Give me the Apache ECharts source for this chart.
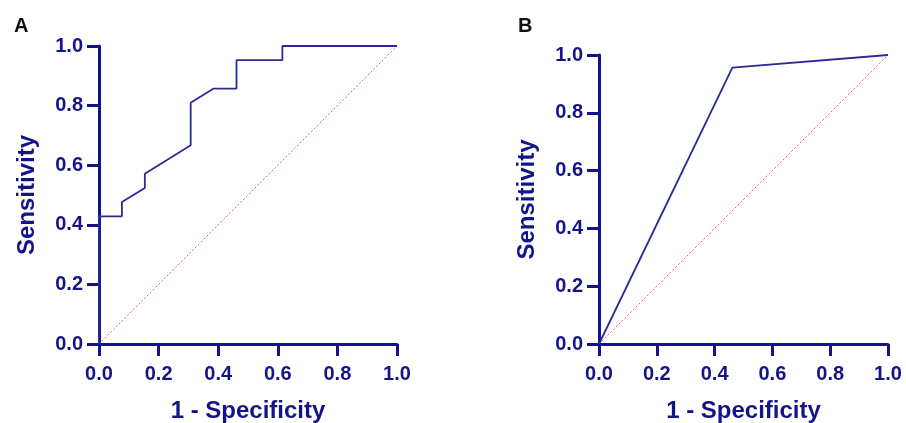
<!DOCTYPE html>
<html>
<head>
<meta charset="utf-8">
<script src="https://cdn.jsdelivr.net/npm/echarts@6/dist/echarts.min.js"></script>
<style>html,body{margin:0;padding:0;background:#fff}#c{width:906px;height:423px}</style>
</head>
<body>
<div id="c"></div>
<script>
// Panel A ROC curve (1 - specificity, sensitivity)
const rocA_fpr  = [0, 0, 0.0769, 0.0769, 0.1538, 0.1538, 0.3077, 0.3077, 0.3846, 0.4615, 0.4615, 0.6154, 0.6154, 1.0];
const rocA_sens = [0, 0.4286, 0.4286, 0.4762, 0.5238, 0.5714, 0.6667, 0.8095, 0.8571, 0.8571, 0.9524, 0.9524, 1.0, 1.0];
// Panel B ROC curve
const rocB_fpr  = [0, 0.4615, 1.0];
const rocB_sens = [0, 0.9565, 1.0];
// Reference diagonal
const diag_x = [0, 1];
const diag_y = [0, 1];
const tickValues = [0, 0.2, 0.4, 0.6, 0.8, 1.0];
const xTitle = '1 - Specificity';
const yTitle = 'Sensitivity';
const panelLabels = ['A', 'B'];

const navy = '#14148a';
const font = '"Liberation Sans", Arial, sans-serif';
const zip = (a, b) => a.map((v, i) => [v, b[i]]);

function xAxisCfg(gi) {
  return {
    type: 'value', gridIndex: gi, min: 0, max: 1, interval: 0.2,
    name: xTitle, nameLocation: 'middle', nameGap: 55,
    nameTextStyle: {color: navy, fontSize: 24, fontWeight: 'bold', fontFamily: font},
    axisLine: {show: true, onZero: false, lineStyle: {color: navy, width: 3}},
    axisTick: {show: true, inside: false, length: 12, lineStyle: {color: navy, width: 3}},
    axisLabel: {color: navy, fontSize: 20, fontWeight: 'bold', fontFamily: font, margin: 20,
      formatter: v => v.toFixed(1)},
    splitLine: {show: false}
  };
}
function yAxisCfg(gi) {
  return {
    type: 'value', gridIndex: gi, min: 0, max: 1, interval: 0.2,
    name: yTitle, nameLocation: 'middle', nameGap: 60, nameRotate: 90,
    nameTextStyle: {color: navy, fontSize: 24, fontWeight: 'bold', fontFamily: font},
    axisLine: {show: true, onZero: false, lineStyle: {color: navy, width: 3}},
    axisTick: {show: true, inside: false, length: 12, lineStyle: {color: navy, width: 3}},
    axisLabel: {color: navy, fontSize: 20, fontWeight: 'bold', fontFamily: font, margin: 16,
      formatter: v => v.toFixed(1)},
    splitLine: {show: false}
  };
}

const chart = echarts.init(document.getElementById('c'), null, {renderer: 'canvas'});
chart.setOption({
  animation: false,
  backgroundColor: '#ffffff',
  title: [
    {text: panelLabels[0], left: 9, top: 11, textStyle: {color: '#111', fontSize: 20, fontWeight: 'bold', fontFamily: font}},
    {text: panelLabels[1], left: 513, top: 11, textStyle: {color: '#111', fontSize: 20, fontWeight: 'bold', fontFamily: font}}
  ],
  grid: [
    {left: 99, right: 509, top: 46, bottom: 79, containLabel: false, outerBoundsMode: 'none'},
    {left: 599, right: 18, top: 55, bottom: 79, containLabel: false, outerBoundsMode: 'none'}
  ],
  xAxis: [xAxisCfg(0), xAxisCfg(1)],
  yAxis: [yAxisCfg(0), yAxisCfg(1)],
  series: [
    {type: 'line', xAxisIndex: 0, yAxisIndex: 0, data: zip(diag_x, diag_y), symbol: 'none',
      lineStyle: {color: '#ff5a5a', width: 1, type: [2, 2]}, z: 1},
    {type: 'line', xAxisIndex: 0, yAxisIndex: 0, data: zip(rocA_fpr, rocA_sens), symbol: 'none',
      lineStyle: {color: '#2a2a9c', width: 1.8}, z: 2},
    {type: 'line', xAxisIndex: 1, yAxisIndex: 1, data: zip(diag_x, diag_y), symbol: 'none',
      lineStyle: {color: '#ff5a5a', width: 1, type: [2, 2]}, z: 1},
    {type: 'line', xAxisIndex: 1, yAxisIndex: 1, data: zip(rocB_fpr, rocB_sens), symbol: 'none',
      lineStyle: {color: '#2a2a9c', width: 1.8}, z: 2}
  ]
});
</script>
</body>
</html>
